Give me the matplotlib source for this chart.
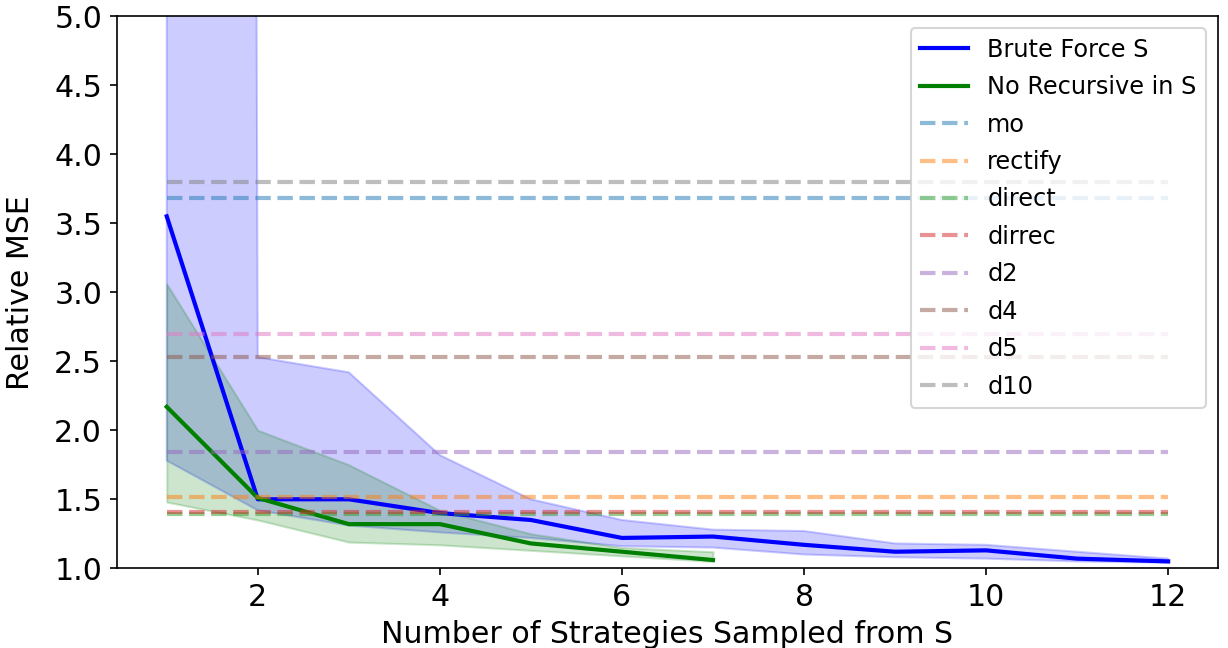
import numpy as np
import matplotlib
matplotlib.use('Agg')
import matplotlib.pyplot as plt

# number of strategies sampled
n_bf = [1, 2, 3, 4, 5, 6, 7, 8, 9, 10, 11, 12]
bf_mean = [3.55, 1.50, 1.50, 1.40, 1.35, 1.22, 1.23, 1.17, 1.12, 1.13, 1.07, 1.05]
bf_upper = [200.0, 2.53, 2.42, 1.82, 1.50, 1.35, 1.28, 1.27, 1.18, 1.17, 1.12, 1.07]
bf_lower = [1.78, 1.42, 1.31, 1.26, 1.22, 1.16, 1.15, 1.10, 1.08, 1.07, 1.05, 1.04]

n_nr = [1, 2, 3, 4, 5, 6, 7]
nr_mean = [2.17, 1.51, 1.32, 1.32, 1.18, 1.12, 1.06]
nr_upper = [3.06, 2.00, 1.75, 1.42, 1.25, 1.15, 1.12]
nr_lower = [1.48, 1.35, 1.19, 1.17, 1.13, 1.09, 1.05]

# baseline methods
baseline_names = ['mo', 'rectify', 'direct', 'dirrec', 'd2', 'd4', 'd5', 'd10']
baseline_values = [3.68, 1.52, 1.39, 1.41, 1.84, 2.53, 2.70, 3.80]

plt.rcParams['font.size'] = 14.4
fig, ax = plt.subplots(figsize=(8.187, 4.32), dpi=150)

ax.plot(n_bf, bf_mean, color='blue', lw=2, label='Brute Force S')
ax.fill_between(n_bf, bf_lower, bf_upper, color='blue', alpha=0.2)
ax.plot(n_nr, nr_mean, color='green', lw=2, label='No Recursive in S')
ax.fill_between(n_nr, nr_lower, nr_upper, color='green', alpha=0.2)

colors = plt.rcParams['axes.prop_cycle'].by_key()['color']
for i, (name, val) in enumerate(zip(baseline_names, baseline_values)):
    ax.hlines(val, 1, 12, colors=colors[i], linestyles='--', lw=2, alpha=0.5, label=name)

ax.set_ylim(1, 5)
ax.set_xlabel('Number of Strategies Sampled from S')
ax.set_ylabel('Relative MSE', labelpad=9)
ax.legend(loc='upper right', fontsize=11.5, labelspacing=0.56)

fig.subplots_adjust(left=0.095, right=0.992, top=0.975, bottom=0.123)
fig.savefig('out.png')
